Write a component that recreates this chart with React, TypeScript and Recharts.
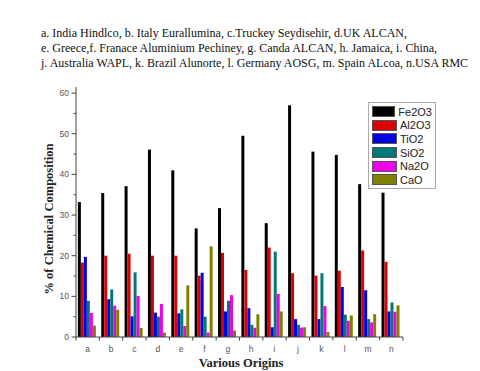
import React from 'react';
import { BarChart, Bar, XAxis, YAxis } from 'recharts';

// bauxite / red mud origins, a..n
const categories = ['a', 'b', 'c', 'd', 'e', 'f', 'g', 'h', 'i', 'j', 'k', 'l', 'm', 'n'];
const fe2o3 = [33.2, 35.4, 37.1, 46.1, 41.0, 26.7, 31.7, 49.5, 28.0, 57.0, 45.6, 44.8, 37.6, 35.5];
const al2o3 = [18.3, 20.0, 20.5, 20.0, 20.0, 15.1, 20.7, 16.5, 22.0, 15.7, 15.1, 16.3, 21.3, 18.5];
const tio2 = [19.7, 9.3, 5.1, 6.0, 5.8, 15.8, 6.3, 7.1, 2.4, 4.4, 4.4, 12.3, 11.5, 6.3];
const sio2 = [8.9, 11.7, 15.9, 5.0, 6.8, 5.0, 8.9, 3.0, 21.0, 3.0, 15.7, 5.5, 4.4, 8.5];
const na2o = [5.9, 7.7, 10.1, 8.1, 2.7, 1.1, 10.3, 2.3, 10.6, 2.3, 7.6, 4.0, 3.6, 6.2];
const cao = [2.8, 6.7, 2.2, 1.1, 12.7, 22.3, 1.6, 5.6, 6.3, 2.4, 1.2, 5.3, 5.6, 7.8];

const yTicks = [0, 5, 10, 15, 20, 25, 30, 35, 40, 45, 50, 55, 60];

const headerLines = [
  'a. India Hindlco, b. Italy Eurallumina, c.Truckey Seydisehir, d.UK ALCAN,',
  'e. Greece,f. Franace Aluminium Pechiney, g. Canda ALCAN, h. Jamaica, i. China,',
  'j. Australia WAPL, k. Brazil Alunorte, l. Germany AOSG, m. Spain ALcoa, n.USA RMC',
];

const series = [
  { key: 'Fe2O3', values: fe2o3, color: '#000000' },
  { key: 'Al2O3', values: al2o3, color: '#dd0000' },
  { key: 'TiO2', values: tio2, color: '#0000e6' },
  { key: 'SiO2', values: sio2, color: '#007878' },
  { key: 'Na2O', values: na2o, color: '#ee00ee' },
  { key: 'CaO', values: cao, color: '#808000' },
];

const chartData = categories.map((name, i) => {
  const row: Record<string, string | number> = { name };
  series.forEach(s => {
    row[s.key] = s.values[i];
  });
  return row;
});

const PLOT_LEFT = 76;
const PLOT_RIGHT = 403;
const AXIS_Y = 337;
const BAND = (PLOT_RIGHT - PLOT_LEFT) / categories.length;
const serif = "'Liberation Serif', 'Times New Roman', serif";
const sans = "Arial, 'Liberation Sans', sans-serif";

// custom ticks: draw from the axis line itself, minor ticks at the fives
const YTick = (props: any) => {
  const { y, payload } = props;
  const major = payload.value % 10 === 0;
  return (
    <g>
      <line x1={PLOT_LEFT - (major ? 4.5 : 2.5)} x2={PLOT_LEFT} y1={y} y2={y} stroke="#444" strokeWidth={1} />
      {major && (
        <text x={PLOT_LEFT - 7} y={y} dy={3} textAnchor="end" fontSize={8.5} fill="#555" fontFamily={sans}>
          {payload.value}
        </text>
      )}
    </g>
  );
};

const XTick = (props: any) => {
  const { x, payload, index } = props;
  const last = index === categories.length - 1;
  return (
    <g>
      <line x1={x - BAND / 2} x2={x - BAND / 2} y1={AXIS_Y} y2={AXIS_Y + 3.5} stroke="#444" strokeWidth={1} />
      {last && <line x1={x + BAND / 2} x2={x + BAND / 2} y1={AXIS_Y} y2={AXIS_Y + 3.5} stroke="#444" strokeWidth={1} />}
      <text x={x} y={AXIS_Y + 15} textAnchor="middle" fontSize={8.5} fill="#555" fontFamily={sans}>
        {payload.value}
      </text>
    </g>
  );
};

export default function App() {
  return (
    <div style={{ position: 'absolute', top: 0, left: 0, width: 480, height: 371, background: '#fff', overflow: 'hidden' }}>
      <div
        style={{
          position: 'absolute',
          top: 26,
          left: 41,
          fontFamily: serif,
          fontSize: 12,
          lineHeight: '15px',
          color: '#111',
          whiteSpace: 'nowrap',
        }}
      >
        {headerLines.map(line => (
          <div key={line}>{line}</div>
        ))}
      </div>
      <BarChart
        width={480}
        height={371}
        data={chartData}
        margin={{ top: 87, right: 480 - PLOT_RIGHT, bottom: 0, left: 0 }}
        barCategoryGap="8%"
        barGap={0}
        style={{ position: 'absolute', top: 0, left: 0 }}
      >
        <XAxis dataKey="name" height={371 - AXIS_Y} stroke="#444" tickLine={false} tick={<XTick />} interval={0} />
        <YAxis
          width={PLOT_LEFT}
          domain={[0, 61.5]}
          ticks={yTicks}
          stroke="#444"
          tickLine={false}
          tick={<YTick />}
          interval={0}
          allowDataOverflow
        />
        {series.map(s => (
          <Bar key={s.key} dataKey={s.key} fill={s.color} isAnimationActive={false} />
        ))}
      </BarChart>
      <div
        style={{
          position: 'absolute',
          top: 102,
          left: 368,
          border: '1px solid #aaa',
          background: '#fff',
          padding: '2px 3px 1px 3px',
          width: 60,
          fontFamily: sans,
          fontSize: 11,
          color: '#222',
        }}
      >
        {series.map(s => (
          <div key={s.key} style={{ display: 'flex', alignItems: 'center', height: 13.6 }}>
            <div style={{ width: 23, height: 9, background: s.color, border: '1px solid #555', marginRight: 3 }} />
            <span>{s.key}</span>
          </div>
        ))}
      </div>
      <div
        style={{
          position: 'absolute',
          left: 49,
          top: 219,
          transform: 'translate(-50%, -50%) rotate(-90deg)',
          fontFamily: serif,
          fontWeight: 'bold',
          fontSize: 12.5,
          color: '#222',
          whiteSpace: 'nowrap',
        }}
      >
        % of Chemical Composition
      </div>
      <div
        style={{
          position: 'absolute',
          left: 241,
          top: 357,
          transform: 'translateX(-50%)',
          fontFamily: serif,
          fontWeight: 'bold',
          fontSize: 12.5,
          lineHeight: '13px',
          color: '#222',
          whiteSpace: 'nowrap',
        }}
      >
        Various Origins
      </div>
    </div>
  );
}
